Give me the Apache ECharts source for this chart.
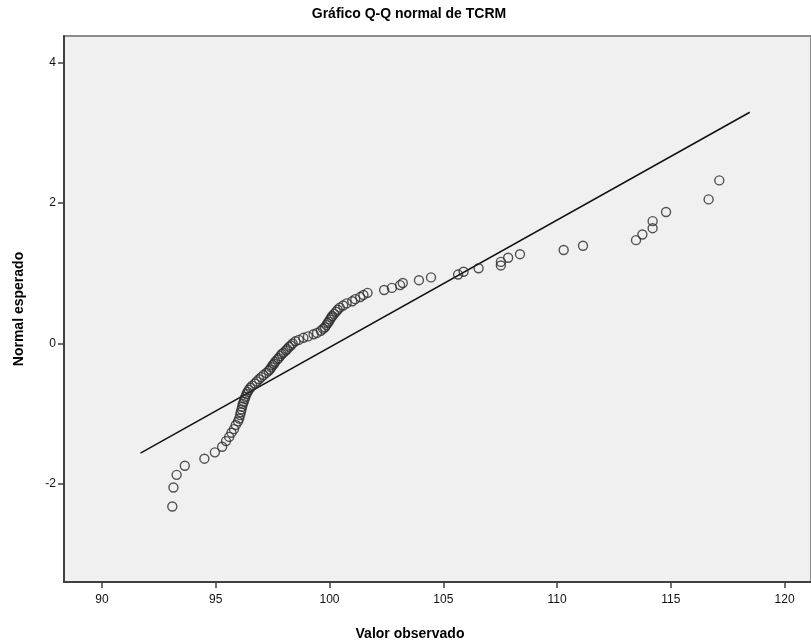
<!DOCTYPE html>
<html>
<head>
<meta charset="utf-8">
<script src="https://cdn.jsdelivr.net/npm/echarts@6/dist/echarts.min.js"></script>
<style>
html,body{margin:0;padding:0;background:#fff;}
#chart{width:811px;height:642px;}
</style>
</head>
<body>
<div id="chart"></div>
<script>
const observed = [
  93.09, 93.14, 93.28, 93.64, 94.50, 94.96, 95.28, 95.45, 95.59, 95.69,
  95.80, 95.88, 95.98, 96.03, 96.07, 96.10, 96.13, 96.16, 96.19, 96.23,
  96.27, 96.30, 96.35, 96.40, 96.45, 96.52, 96.60, 96.72, 96.80, 96.90,
  97.00, 97.10, 97.22, 97.32, 97.38, 97.44, 97.50, 97.56, 97.61, 97.70,
  97.76, 97.83, 97.90, 97.98, 98.08, 98.14, 98.22, 98.30, 98.38,
  98.50, 98.65, 98.85, 99.05, 99.30, 99.45, 99.62, 99.72, 99.80, 99.86,
  99.92, 99.96, 100.02, 100.08, 100.12, 100.20, 100.28, 100.36, 100.45, 100.60,
  100.75, 101.00, 101.13, 101.35, 101.49, 101.67, 102.40, 102.74, 103.10, 103.22,
  103.93, 104.46, 105.65, 105.89, 106.55, 107.53, 107.53, 107.85, 108.37, 110.29,
  111.14, 113.47, 113.75, 114.20, 114.20, 114.79, 116.66, 117.13
];
const expected = [
  -2.32, -2.05, -1.87, -1.74, -1.64, -1.55, -1.47, -1.39, -1.33, -1.27,
  -1.22, -1.16, -1.11, -1.07, -1.02, -0.98, -0.94, -0.90, -0.86, -0.83,
  -0.79, -0.76, -0.72, -0.69, -0.66, -0.63, -0.60, -0.57, -0.54, -0.51,
  -0.48, -0.45, -0.42, -0.39, -0.37, -0.34, -0.31, -0.29, -0.26, -0.23,
  -0.21, -0.18, -0.15, -0.13, -0.10, -0.08, -0.05, -0.03, 0.00,
  0.03, 0.05, 0.08, 0.10, 0.13, 0.15, 0.18, 0.21, 0.23, 0.26,
  0.29, 0.31, 0.34, 0.37, 0.39, 0.42, 0.45, 0.48, 0.51, 0.54,
  0.57, 0.60, 0.63, 0.66, 0.69, 0.72, 0.76, 0.79, 0.83, 0.86,
  0.90, 0.94, 0.98, 1.02, 1.07, 1.11, 1.16, 1.22, 1.27, 1.33,
  1.39, 1.47, 1.55, 1.64, 1.74, 1.87, 2.05, 2.32
];
// Reference line endpoints
const lineX = [91.69, 118.47];
const lineY = [-1.56, 3.29];
// Tick labels
const xTicks = [90, 95, 100, 105, 110, 115, 120];
const yTicks = [-2, 0, 2, 4];

const points = observed.map((v, i) => [v, expected[i]]);
const linePts = lineX.map((v, i) => [v, lineY[i]]);

const chart = echarts.init(document.getElementById('chart'), null, {renderer: 'canvas'});
const FONT = '"Liberation Sans", Arial, sans-serif';
chart.setOption({
  animation: false,
  backgroundColor: '#ffffff',
  title: [
    {text: 'Gráfico Q-Q normal de TCRM', left: 404, top: 2, textAlign: 'center',
     textStyle: {fontFamily: FONT, fontSize: 14, fontWeight: 'bold', color: '#000'}},
    {text: 'Valor observado', left: 405, top: 622, textAlign: 'center',
     textStyle: {fontFamily: FONT, fontSize: 14, fontWeight: 'bold', color: '#000'}}
  ],
  grid: {left: 64, top: 36, right: 0, bottom: 60, show: true, containLabel: false,
         outerBoundsMode: 'none',
         backgroundColor: '#f0f0f0', borderColor: '#8c8c8c', borderWidth: 2},
  xAxis: {
    type: 'value', min: 88.33, max: 121.16,
    splitLine: {show: false},
    axisLine: {show: true, onZero: false, lineStyle: {color: '#404040', width: 2}},
    axisTick: {show: true, inside: false, length: 6, customValues: xTicks, lineStyle: {color: '#404040', width: 1.5}},
    axisLabel: {customValues: xTicks, margin: 12, fontFamily: FONT, fontSize: 12, color: '#111'}
  },
  yAxis: {
    type: 'value', min: -3.395, max: 4.375,
    name: 'Normal esperado', nameLocation: 'middle', nameGap: 38, nameRotate: 90,
    nameTextStyle: {fontFamily: FONT, fontSize: 14, fontWeight: 'bold', color: '#000'},
    splitLine: {show: false},
    axisLine: {show: true, onZero: false, lineStyle: {color: '#404040', width: 2}},
    axisTick: {show: true, inside: false, length: 6, customValues: yTicks, lineStyle: {color: '#404040', width: 1.5}},
    axisLabel: {customValues: yTicks, margin: 8, fontFamily: FONT, fontSize: 12, color: '#111'}
  },
  series: [
    {type: 'line', data: linePts, symbol: 'none', silent: true,
     lineStyle: {color: '#111', width: 1.5}, z: 2},
    {type: 'scatter', data: points, symbol: 'circle', symbolSize: 9,
     itemStyle: {color: 'rgba(0,0,0,0)', borderColor: '#2a2a2a', borderWidth: 1.4}, z: 3}
  ]
});
</script>
</body>
</html>
